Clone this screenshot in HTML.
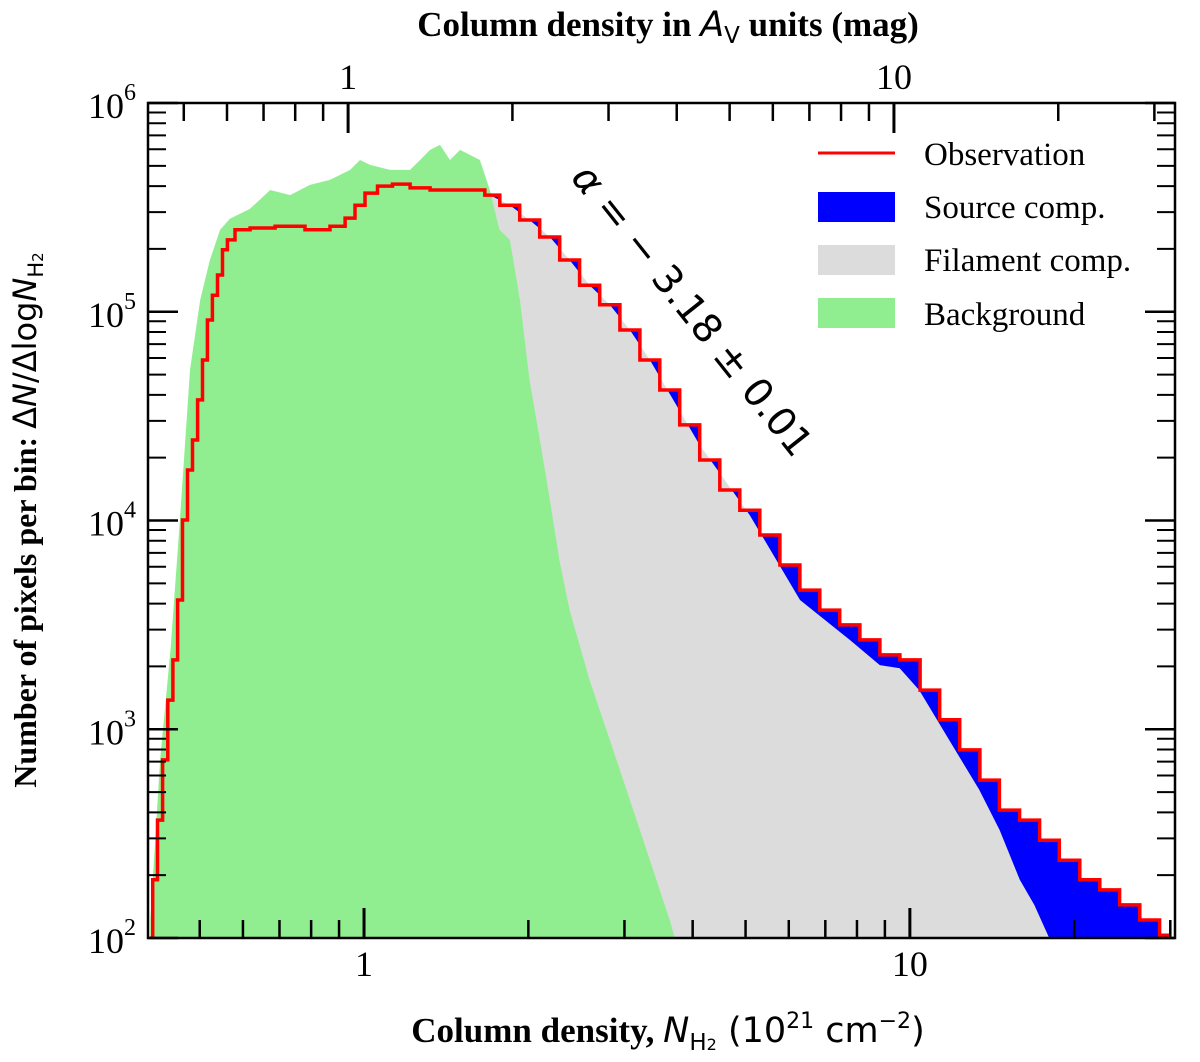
<!DOCTYPE html>
<html><head><meta charset="utf-8"><style>
body{margin:0;background:#fff}
svg{display:block}
.serif{font-family:"Liberation Serif",serif}
</style></head><body>
<svg id="chart" width="1200" height="1062" xmlns="http://www.w3.org/2000/svg">
<defs><clipPath id="clip"><rect x="148" y="103" width="1027" height="835"/></clipPath></defs>
<g id="areas" clip-path="url(#clip)"></g>
<g id="axes"></g>
<g class="serif" font-size="33">
 <line x1="818" y1="153" x2="895" y2="153" stroke="#f00" stroke-width="3"/>
 <text x="924" y="165">Observation</text>
 <rect x="818" y="192" width="77" height="30" fill="#0000ff"/>
 <text x="924" y="218">Source comp.</text>
 <rect x="818" y="245" width="77" height="30" fill="#dcdcdc"/>
 <text x="924" y="271">Filament comp.</text>
 <rect x="818" y="298" width="77" height="30" fill="#90ee90"/>
 <text x="924" y="325">Background</text>
</g>
<text transform="translate(570,178) rotate(51.5)" font-family="DejaVu Sans,sans-serif" font-size="39"><tspan font-style="italic">α</tspan> = − 3.18 ± 0.01</text>
<text x="668" y="1042" text-anchor="middle" class="serif" font-size="35" font-weight="bold">Column density, <tspan font-family="DejaVu Sans,sans-serif" font-weight="normal" font-style="italic">N</tspan><tspan font-family="DejaVu Sans,sans-serif" font-weight="normal" font-size="23" dy="8">H<tspan font-size="16">2</tspan></tspan><tspan font-family="DejaVu Sans,sans-serif" font-weight="normal" dy="-8"> (10<tspan font-size="22" dy="-14">21</tspan><tspan dy="14"> cm</tspan><tspan font-size="22" dy="-14">−2</tspan><tspan dy="14">)</tspan></tspan></text>
<text x="668" y="36" text-anchor="middle" class="serif" font-size="35" font-weight="bold">Column density in <tspan font-family="DejaVu Sans,sans-serif" font-weight="normal" font-style="italic">A</tspan><tspan font-family="DejaVu Sans,sans-serif" font-weight="normal" font-size="23" dy="7">V</tspan><tspan dy="-7"> units (mag)</tspan></text>
<text transform="translate(36,520) rotate(-90)" text-anchor="middle" class="serif" font-size="32" font-weight="bold">Number of pixels per bin: <tspan font-family="DejaVu Sans,sans-serif" font-weight="normal">Δ<tspan font-style="italic">N</tspan>/Δlog<tspan font-style="italic">N</tspan><tspan font-size="21" dy="7">H<tspan font-size="15">2</tspan></tspan></tspan></text>
</svg>
<script>
const obsN=[0.406,0.414,0.423,0.432,0.442,0.451,0.460,0.470,0.480,0.490,0.501,0.511,0.522,0.533,0.545,0.556,0.568,0.593,0.645,0.732,0.830,0.904,0.943,0.983,1.026,1.092,1.164,1.267,1.378,1.630,1.70,1.85,2.01,2.19,2.38,2.59,2.82,3.07,3.34,3.63,3.95,4.30,4.68,5.09,5.54,6.03,6.56,7.13,7.76,8.45,9.19,10.0,10.9,11.8,12.9,14.0,15.2,16.6,18.0,19.6,21.4,23.2,25.3,27.5,29.9];
const obsCounts=[100,190,367,713,1380,2150,4160,10050,17460,24300,37800,58700,91300,120000,150000,198000,221000,247000,252000,257000,247000,257000,281000,324000,370000,400000,409000,392000,383000,383000,362000,324000,275000,228000,177000,134000,108000,81800,58700,42200,28700,19500,14000,11200,8520,6120,4640,3720,3160,2680,2270,2150,1540,1110,796,571,410,367,294,236,190,170,144,122,103];
const filN=[0.406,0.423,0.442,0.460,0.480,0.501,0.522,0.545,0.568,0.593,0.645,0.732,0.830,0.943,1.026,1.164,1.378,1.630,1.85,2.01,2.19,2.38,2.59,2.82,3.07,3.34,4.12,5.09,6.29,7.76,8.81,9.58,10.4,11.8,13.4,14.6,15.9,16.9,18.0];
const filCounts=[110,380,1500,4500,18000,38000,92000,150000,221000,247000,252000,257000,247000,281000,370000,409000,383000,383000,324000,275000,228000,177000,134000,108000,81800,58700,23000,10600,4160,2680,2030,1960,1540,889,512,329,190,144,100];
const bgN=[0.406,0.423,0.442,0.460,0.480,0.501,0.522,0.545,0.568,0.618,0.673,0.732,0.796,0.866,0.943,0.983,1.026,1.116,1.214,1.267,1.321,1.378,1.437,1.499,1.563,1.630,1.70,1.77,1.85,1.93,2.01,2.10,2.19,2.28,2.38,2.59,2.82,3.07,3.34,3.63,3.71];
const bgCounts=[122,713,2400,10050,52600,114000,177000,247000,279000,311000,383000,362000,405000,428000,478000,533000,505000,478000,478000,533000,596000,630000,533000,596000,564000,533000,383000,247000,221000,114000,47100,24300,12500,6470,3720,1720,889,458,236,122,100];
const yTicks=[2,3,4,5,6];
const xMajor=[1,10];
const avMajor=[1,10];
const avPerN=1/0.935;

const L=148,R=1175,T=103,B=938;
const xLo=Math.log10(0.402),xHi=Math.log10(30.6);
const X=n=>L+(Math.log10(n)-xLo)/(xHi-xLo)*(R-L);
const Y=v=>B-(Math.log10(v)-2)/4*(B-T);
const NS="http://www.w3.org/2000/svg";
function mk(tag,attrs,parent){const e=document.createElementNS(NS,tag);for(const k in attrs)e.setAttribute(k,attrs[k]);parent.appendChild(e);return e;}
const areas=document.getElementById('areas'),axes=document.getElementById('axes');

function stepPts(Ns,Cs){const pts=[];for(let i=0;i<Ns.length;i++){const lo=i==0?Ns[0]:Math.sqrt(Ns[i-1]*Ns[i]);const hi=i==Ns.length-1?Ns[i]:Math.sqrt(Ns[i]*Ns[i+1]);pts.push([X(lo),Y(Cs[i])],[X(hi),Y(Cs[i])]);}return pts;}
function smoothPts(Ns,Cs){return Ns.map((n,i)=>[X(n),Y(Cs[i])]);}
function areaD(pts){return 'M'+pts[0][0]+','+(B+5)+' '+pts.map(p=>'L'+p[0].toFixed(1)+','+p[1].toFixed(1)).join(' ')+' L'+pts[pts.length-1][0]+','+(B+5)+'Z';}
const op=stepPts(obsN,obsCounts);
const src=mk('path',{d:areaD(op),fill:'#0000ff'},areas);


const fil=mk('path',{d:areaD(smoothPts(filN,filCounts)),fill:'#dcdcdc'},areas);


const bg=mk('path',{d:areaD(smoothPts(bgN,bgCounts)),fill:'#90ee90'},areas);


const ol=mk('path',{d:'M'+op.map(p=>p[0].toFixed(1)+','+p[1].toFixed(1)).join(' L'),fill:'none',stroke:'#f00','stroke-width':3.5},areas);



const fr=mk('rect',{x:L,y:T,width:R-L,height:B-T,fill:'none',stroke:'#000','stroke-width':2.5},axes);


yTicks.forEach(e=>{
 const y=Y(Math.pow(10,e));
 mk('line',{x1:L,y1:y,x2:L+30,y2:y,stroke:'#000','stroke-width':2.5},axes);
 mk('line',{x1:R,y1:y,x2:R-30,y2:y,stroke:'#000','stroke-width':2.5},axes);
 const t=mk('text',{x:L-12,y:y+15,'text-anchor':'end','font-family':'Liberation Serif,serif','font-size':36},axes);
 
 
 t.innerHTML='10<tspan font-size="24" dy="-18">'+e+'</tspan>';
 if(e<6)for(let m=2;m<10;m++){const ym=Y(m*Math.pow(10,e));mk('line',{x1:L,y1:ym,x2:L+18,y2:ym,stroke:'#000','stroke-width':2},axes);mk('line',{x1:R,y1:ym,x2:R-18,y2:ym,stroke:'#000','stroke-width':2},axes);}
});
for(let d=0.1;d<=10;d*=10)for(let m=1;m<10;m++){const n=m*d;if(n<0.402||n>30.6)continue;const x=X(n);const len=m==1?30:18;mk('line',{x1:x,y1:B,x2:x,y2:B-len,stroke:'#000','stroke-width':m==1?3:2.5},axes);}
xMajor.forEach(n=>{const t=mk('text',{x:X(n),y:B+38,'text-anchor':'middle','font-family':'Liberation Serif,serif','font-size':36},axes);t.textContent=String(n);
 
 });
const XA=a=>X(a/avPerN);
for(let d=0.1;d<=10;d*=10)for(let m=1;m<10;m++){const a=m*d;const x=XA(a);if(x<L||x>R)continue;const len=m==1?30:18;mk('line',{x1:x,y1:T,x2:x,y2:T+len,stroke:'#000','stroke-width':m==1?3:2.5},axes);}
avMajor.forEach(a=>{const t=mk('text',{x:XA(a),y:T-14,'text-anchor':'middle','font-family':'Liberation Serif,serif','font-size':36},axes);t.textContent=String(a);
 
 });
</script>
</body></html>
